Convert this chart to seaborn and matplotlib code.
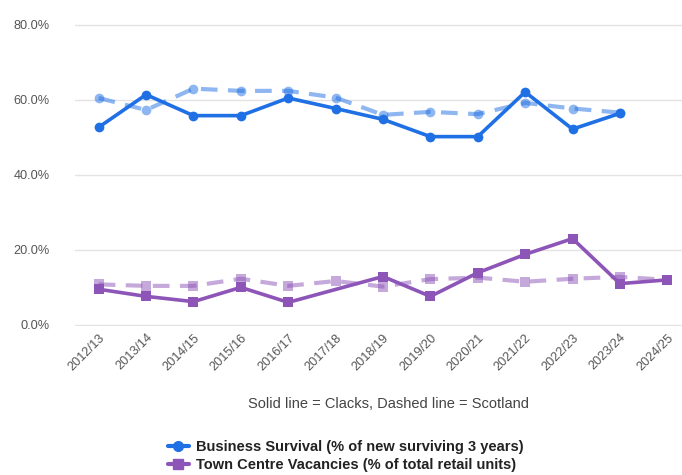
import numpy as np
import pandas as pd
import matplotlib
matplotlib.use("Agg")
import matplotlib.pyplot as plt
from matplotlib.lines import Line2D
from matplotlib.ticker import FuncFormatter
import seaborn as sns

# ======================
# DATA
# ======================
years = ["2012/13", "2013/14", "2014/15", "2015/16", "2016/17", "2017/18", "2018/19",
         "2019/20", "2020/21", "2021/22", "2022/23", "2023/24", "2024/25"]

survival_clacks = [52.6, 61.3, 55.7, 55.7, 60.4, 57.6, 54.7, 50.1, 50.1, 62.0, 52.1, 56.3, np.nan]
survival_scotland = [60.4, 57.2, 62.9, 62.3, 62.3, 60.5, 55.9, 56.7, 56.1, 59.1, 57.6, 56.5, np.nan]
vacancy_clacks = [9.4, 7.5, 6.1, 9.9, 5.9, np.nan, 12.8, 7.5, 13.8, 18.7, 22.9, 10.9, 11.9]
vacancy_scotland = [10.7, 10.3, 10.3, 12.2, 10.3, 11.6, 10.1, 12.1, 12.5, 11.4, 12.2, 12.7, 11.9]

yticks = [0, 20, 40, 60, 80]

# ======================
# STYLE
# ======================
sns.set_style("white")
plt.rcParams["font.family"] = ["Liberation Sans", "DejaVu Sans"]

blue = "#1f6fe5"
purple = "#8e55b8"

df = pd.DataFrame({
    "x": np.arange(len(years)),
    "survival_clacks": survival_clacks,
    "survival_scotland": survival_scotland,
    "vacancy_clacks": vacancy_clacks,
    "vacancy_scotland": vacancy_scotland,
})

fig = plt.figure(figsize=(6.82, 4.75), dpi=100)
ax = fig.add_axes([75 / 682, 149 / 475, 616 / 682, 303 / 475])

# dashed = Scotland (drawn first, behind)
sns.lineplot(data=df, x="x", y="survival_scotland", ax=ax, color=blue, alpha=0.5,
             linewidth=3, linestyle=(0, (4, 2.5)), marker="o", markersize=7,
             markeredgewidth=0)
sns.lineplot(data=df, x="x", y="vacancy_scotland", ax=ax, color=purple, alpha=0.5,
             linewidth=3, linestyle=(0, (4, 2.5)), marker="s", markersize=7,
             markeredgewidth=0)

# solid = Clacks
sns.lineplot(data=df, x="x", y="survival_clacks", ax=ax, color=blue,
             linewidth=2.6, marker="o", markersize=7, markeredgewidth=0)
sns.lineplot(data=df, x="x", y="vacancy_clacks", ax=ax, color=purple,
             linewidth=2.6, marker="s", markersize=7, markeredgewidth=0)

ax.set_xlim(-0.5, len(years) - 0.5)
ax.set_ylim(-0.4, 80.4)
ax.set_yticks(yticks)
ax.yaxis.set_major_formatter(FuncFormatter(lambda v, p: f"{v:.1f}%"))
ax.set_xticks(range(len(years)))
ax.set_xticklabels(years, rotation=45, ha="right", rotation_mode="anchor")
ax.tick_params(axis="both", length=0, labelsize=9.2, colors="#555555")
ax.tick_params(axis="x", pad=4)
ax.tick_params(axis="y", pad=18)
ax.grid(axis="y", color="#e3e3e3", linewidth=1)
ax.set_axisbelow(True)
for s in ax.spines.values():
    s.set_visible(False)
ax.set_xlabel("")
ax.set_ylabel("")

fig.text(388 / 682, 1 - 404 / 475, "Solid line = Clacks, Dashed line = Scotland",
         ha="center", va="center", fontsize=10.5, color="#444444")

handles = [
    Line2D([], [], color=blue, linewidth=3, marker="o", markersize=7),
    Line2D([], [], color=purple, linewidth=3, marker="s", markersize=7),
]
labels = ["Business Survival (% of new surviving 3 years)",
          "Town Centre Vacancies (% of total retail units)"]
leg = fig.legend(handles, labels, loc="center left", bbox_to_anchor=(155 / 682, 1 - 456 / 475),
                 frameon=False, handlelength=1.4, handletextpad=0.5, labelspacing=0.25,
                 prop={"size": 10.5, "weight": "bold"})
for t in leg.get_texts():
    t.set_color("#222222")

fig.savefig("out.png", dpi=100)
